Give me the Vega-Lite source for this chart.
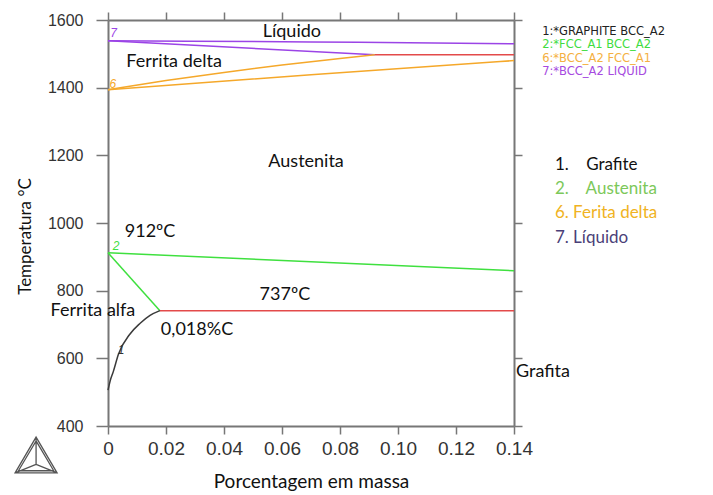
{
  "$schema": "https://vega.github.io/schema/vega-lite/v6.json",
  "width": 406,
  "height": 406,
  "autosize": "none",
  "padding": {"left": 108, "top": 20, "right": 199, "bottom": 69},
  "background": "white",
  "config": {"view": {"stroke": null}},
  "datasets": {
    "curves": [
      {"seg": "L1", "phase": "liquid", "x": 0, "T": 1539},
      {"seg": "L1", "phase": "liquid", "x": 0.07, "T": 1535},
      {"seg": "L1", "phase": "liquid", "x": 0.14, "T": 1530},
      {"seg": "L2", "phase": "liquid", "x": 0, "T": 1539},
      {"seg": "L2", "phase": "liquid", "x": 0.092, "T": 1497},
      {"seg": "D1", "phase": "delta", "x": 0, "T": 1394},
      {"seg": "D1", "phase": "delta", "x": 0.02, "T": 1421},
      {"seg": "D1", "phase": "delta", "x": 0.04, "T": 1445},
      {"seg": "D1", "phase": "delta", "x": 0.06, "T": 1467},
      {"seg": "D1", "phase": "delta", "x": 0.08, "T": 1486},
      {"seg": "D1", "phase": "delta", "x": 0.092, "T": 1497},
      {"seg": "D2", "phase": "delta", "x": 0, "T": 1394},
      {"seg": "D2", "phase": "delta", "x": 0.07, "T": 1438},
      {"seg": "D2", "phase": "delta", "x": 0.14, "T": 1480},
      {"seg": "P", "phase": "three", "x": 0.092, "T": 1497},
      {"seg": "P", "phase": "three", "x": 0.14, "T": 1497},
      {"seg": "G1", "phase": "gamma", "x": 0, "T": 912},
      {"seg": "G1", "phase": "gamma", "x": 0.14, "T": 859},
      {"seg": "G2", "phase": "gamma", "x": 0, "T": 912},
      {"seg": "G2", "phase": "gamma", "x": 0.0179, "T": 741},
      {"seg": "E", "phase": "three", "x": 0.0179, "T": 741},
      {"seg": "E", "phase": "three", "x": 0.14, "T": 741},
      {"seg": "S", "phase": "solvus", "x": 0, "T": 506},
      {"seg": "S", "phase": "solvus", "x": 0.0008, "T": 535},
      {"seg": "S", "phase": "solvus", "x": 0.0018, "T": 560},
      {"seg": "S", "phase": "solvus", "x": 0.0036, "T": 612},
      {"seg": "S", "phase": "solvus", "x": 0.0076, "T": 672},
      {"seg": "S", "phase": "solvus", "x": 0.011, "T": 703},
      {"seg": "S", "phase": "solvus", "x": 0.0145, "T": 727},
      {"seg": "S", "phase": "solvus", "x": 0.0179, "T": 741}
    ],
    "labels": [
      {"group": "main", "key": "0", "text": "Líquido", "x": 0.0634, "T": 1565},
      {"group": "main", "key": "0", "text": "Ferrita delta", "x": 0.0228, "T": 1476},
      {"group": "main", "key": "0", "text": "Austenita", "x": 0.0683, "T": 1180},
      {"group": "main", "key": "0", "text": "912ºC", "x": 0.0145, "T": 973},
      {"group": "main", "key": "0", "text": "737ºC", "x": 0.061, "T": 787},
      {"group": "main", "key": "0", "text": "Ferrita alfa", "x": -0.0052, "T": 740},
      {"group": "main", "key": "0", "text": "0,018%C", "x": 0.0307, "T": 684},
      {"group": "main", "key": "0", "text": "Grafita", "x": 0.15, "T": 559},
      {"group": "num", "key": "7", "text": "7", "x": 0.0019, "T": 1562},
      {"group": "num", "key": "6", "text": "6", "x": 0.0017, "T": 1411},
      {"group": "num", "key": "2", "text": "2", "x": 0.0028, "T": 932},
      {"group": "num", "key": "1", "text": "1", "x": 0.0045, "T": 625},
      {"group": "legend1", "key": "1", "text": "1:*GRAPHITE BCC_A2", "x": 0.1497, "T": 1566},
      {"group": "legend1", "key": "2", "text": "2:*FCC_A1 BCC_A2", "x": 0.1497, "T": 1526},
      {"group": "legend1", "key": "6", "text": "6:*BCC_A2 FCC_A1", "x": 0.1497, "T": 1486},
      {"group": "legend1", "key": "7", "text": "7:*BCC_A2 LIQUID", "x": 0.1497, "T": 1446},
      {"group": "legend2", "key": "1", "text": "1.\u00a0\u00a0\u00a0\u00a0Grafite", "x": 0.1541, "T": 1171},
      {"group": "legend2", "key": "2", "text": "2.\u00a0\u00a0\u00a0\u00a0Austenita", "x": 0.1541, "T": 1100},
      {"group": "legend2", "key": "6", "text": "6. Ferita delta", "x": 0.1541, "T": 1029},
      {"group": "legend2", "key": "7", "text": "7. Líquido", "x": 0.1541, "T": 956}
    ],
    "logo": [{"x": -0.0248, "T": 305}]
  },
  "layer": [
    {
      "data": {"name": "curves"},
      "mark": {"type": "line", "strokeWidth": 1.5, "interpolate": "monotone"},
      "encoding": {
        "x": {
          "field": "x", "type": "quantitative",
          "scale": {"domain": [0, 0.14], "nice": false, "zero": false},
          "axis": {
            "orient": "bottom",
            "values": [0, 0.02, 0.04, 0.06, 0.08, 0.1, 0.12, 0.14],
            "labelExpr": "datum.value == 0 ? '0' : format(datum.value, '.2f')",
            "labelFont": "Liberation Sans", "labelFontSize": 19, "labelColor": "#333",
            "labelPadding": 5, "labelFlush": false,
            "tickColor": "#777", "tickSize": 8, "tickWidth": 1.5,
            "domainColor": "#777", "domainWidth": 2, "grid": false,
            "title": "Porcentagem em massa", "titleFont": "Lato", "titleFontSize": 19,
            "titleFontWeight": "normal", "titleColor": "#111", "titlePadding": 14
          }
        },
        "y": {
          "field": "T", "type": "quantitative",
          "scale": {"domain": [400, 1600], "nice": false, "zero": false},
          "axis": {
            "orient": "left",
            "values": [400, 600, 800, 1000, 1200, 1400, 1600],
            "format": "d",
            "labelFont": "Liberation Sans", "labelFontSize": 16, "labelColor": "#333",
            "labelPadding": 13, "labelFlush": false,
            "tickColor": "#777", "tickSize": 12, "tickWidth": 1.5,
            "domainColor": "#777", "domainWidth": 2, "grid": false,
            "title": "Temperatura °C", "titleFont": "Lato", "titleFontSize": 17,
            "titleFontWeight": "normal", "titleColor": "#111", "titlePadding": 13,
            "titleY": 216
          }
        },
        "detail": {"field": "seg"},
        "color": {
          "field": "phase", "type": "nominal",
          "scale": {"domain": ["liquid", "delta", "gamma", "three", "solvus"], "range": ["#9b44e6", "#f5a82a", "#3fe03f", "#e34a4a", "#3a3a3a"]},
          "legend": null
        }
      }
    },
    {
      "data": {"name": "curves"},
      "mark": {"type": "point", "opacity": 0},
      "encoding": {
        "x": {
          "field": "x", "type": "quantitative",
          "axis": {
            "orient": "top", "values": [0, 0.02, 0.04, 0.06, 0.08, 0.1, 0.12, 0.14],
            "labels": false, "title": null, "tickColor": "#777", "tickSize": 8, "tickWidth": 1.5,
            "domainColor": "#777", "domainWidth": 2, "grid": false
          }
        },
        "y": {
          "field": "T", "type": "quantitative",
          "axis": {
            "orient": "right", "values": [400, 600, 800, 1000, 1200, 1400, 1600],
            "labels": false, "title": null, "tickColor": "#777", "tickSize": 8, "tickWidth": 1.5,
            "domainColor": "#777", "domainWidth": 2, "grid": false
          }
        }
      }
    },
    {
      "data": {"name": "labels"},
      "transform": [{"filter": "datum.group == 'main'"}],
      "mark": {"type": "text", "font": "Lato", "fontSize": 18, "color": "#111", "align": "center", "baseline": "middle"},
      "encoding": {
        "x": {"field": "x", "type": "quantitative", "axis": null},
        "y": {"field": "T", "type": "quantitative", "axis": null},
        "text": {"field": "text"}
      }
    },
    {
      "data": {"name": "labels"},
      "transform": [{"filter": "datum.group == 'num'"}],
      "mark": {"type": "text", "font": "Liberation Sans", "fontSize": 12, "fontStyle": "italic", "align": "center", "baseline": "middle"},
      "encoding": {
        "x": {"field": "x", "type": "quantitative", "axis": null},
        "y": {"field": "T", "type": "quantitative", "axis": null},
        "text": {"field": "text"},
        "color": {"field": "key", "type": "nominal", "scale": {"domain": ["1", "2", "6", "7"], "range": ["#333333", "#3fe03f", "#f5a82a", "#9b44e6"]}, "legend": null}
      }
    },
    {
      "data": {"name": "labels"},
      "transform": [{"filter": "datum.group == 'legend1'"}],
      "mark": {"type": "text", "font": "DejaVu Sans", "fontSize": 11.5, "align": "left", "baseline": "middle"},
      "encoding": {
        "x": {"field": "x", "type": "quantitative", "axis": null},
        "y": {"field": "T", "type": "quantitative", "axis": null},
        "text": {"field": "text"},
        "color": {"field": "key", "type": "nominal", "scale": {"domain": ["1", "2", "6", "7"], "range": ["#222222", "#3fdc3f", "#f4b042", "#a64ae0"]}, "legend": null}
      }
    },
    {
      "data": {"name": "labels"},
      "transform": [{"filter": "datum.group == 'legend2'"}],
      "mark": {"type": "text", "font": "Lato", "fontSize": 17, "align": "left", "baseline": "middle"},
      "encoding": {
        "x": {"field": "x", "type": "quantitative", "axis": null},
        "y": {"field": "T", "type": "quantitative", "axis": null},
        "text": {"field": "text"},
        "color": {"field": "key", "type": "nominal", "scale": {"domain": ["1", "2", "6", "7"], "range": ["#111111", "#7cc85a", "#f0b323", "#4b3f78"]}, "legend": null}
      }
    },
    {
      "data": {"name": "logo"},
      "mark": {"type": "point", "filled": false, "stroke": "#555", "strokeWidth": 1.3, "opacity": 1, "size": 1764,
        "shape": "M0,-1L1,0.7L-1,0.7Z M0,-0.82L0.84,0.6L-0.84,0.6Z M0,-1L0,0.3 M-1,0.7L0,0.3 M1,0.7L0,0.3"},
      "encoding": {
        "x": {"field": "x", "type": "quantitative", "axis": null},
        "y": {"field": "T", "type": "quantitative", "axis": null}
      }
    }
  ],
  "resolve": {"axis": {"x": "independent", "y": "independent"}, "scale": {"color": "independent"}}
}
